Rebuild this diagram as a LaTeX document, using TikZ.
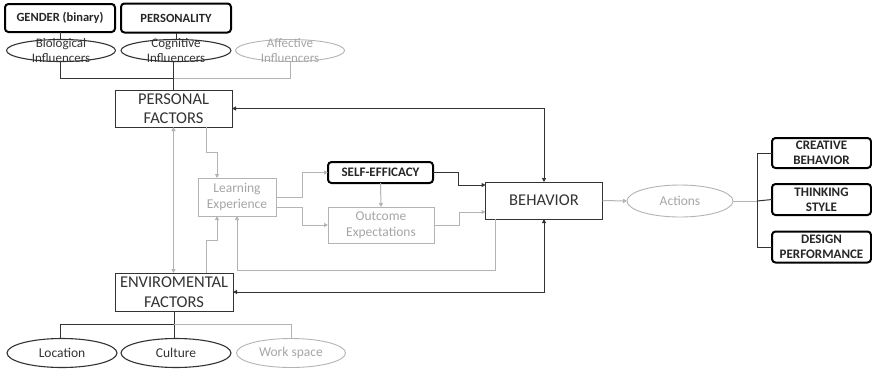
\documentclass[tikz,border=0pt]{standalone}
\usepackage{fontspec}
\setmainfont{Carlito}
\usetikzlibrary{arrows.meta,shapes.geometric}
\definecolor{ink}{HTML}{333333}
\definecolor{faint}{HTML}{B4B4B4}
\definecolor{fainttext}{HTML}{A6A6A6}
\begin{document}
\begin{tikzpicture}[x=1pt,y=-1pt,
  every node/.style={inner sep=0pt, outer sep=0pt, align=center, text=ink},
  bigtext/.style={font=\fontsize{16.5}{19.5}\selectfont},
  midtext/.style={font=\fontsize{13.5}{16.5}\selectfont},
  smalltext/.style={font=\fontsize{13}{15}\selectfont},
  plainbox/.style={draw=ink, line width=0.9pt, rectangle, bigtext},
  faintbox/.style={draw=faint, line width=0.9pt, rectangle, midtext, text=fainttext},
  keybox/.style={draw=black, line width=2pt, rounded corners=3.5pt, font=\bfseries\fontsize{12.5}{15}\selectfont, text=black!85},
  outbox/.style={keybox, font=\bfseries\fontsize{13}{15}\selectfont},
  darkoval/.style={ellipse, draw=ink, line width=1.1pt},
  faintoval/.style={ellipse, draw=faint, line width=0.9pt, text=fainttext},
  darkline/.style={draw=ink, line width=1pt},
  faintline/.style={draw=faint, line width=1pt},
  tip/.style={-{Triangle[length=4pt,width=4pt]}},
  bitip/.style={{Triangle[length=4pt,width=4pt]}-{Triangle[length=4pt,width=4pt]}}
]
\useasboundingbox (0,0) rectangle (872,370);
\fill[white] (0,0) rectangle (872,370);

% personal influencers
\node[keybox, minimum width=110pt, minimum height=28pt] (gender) at (60,18) {GENDER (binary)};
\node[keybox, minimum width=110pt, minimum height=29pt] (personality) at (176,18) {PERSONALITY};
\node[darkoval, minimum width=109pt, minimum height=22pt] (bio) at (61,50.5) {};
\node[darkoval, minimum width=110pt, minimum height=22pt] (cog) at (176,50.5) {};
\node[faintoval, minimum width=109pt, minimum height=22pt] (aff) at (290,50.5) {};
\node[smalltext] (bio-t) at (bio) {Biological\\Influencers};
\node[smalltext] (cog-t) at (cog) {Cognitive\\Influencers};
\node[smalltext, text=fainttext] (aff-t) at (aff) {Affective\\Influencers};

% core factors
\node[plainbox, minimum width=117pt, minimum height=37pt] (personal) at (173.5,108.5) {PERSONAL\\FACTORS};
\node[plainbox, minimum width=118pt, minimum height=38pt] (env) at (174,292) {ENVIROMENTAL\\FACTORS};
\node[plainbox, minimum width=117pt, minimum height=37pt] (behavior) at (544,200.5) {BEHAVIOR};

% cognitive mechanism
\node[faintbox, minimum width=78pt, minimum height=38pt] (learn) at (237,197) {Learning\\Experience};
\node[keybox, font=\bfseries\fontsize{13}{15}\selectfont, minimum width=105pt, minimum height=21pt] (self) at (380.5,172.5) {SELF-EFFICACY};
\node[faintbox, minimum width=106pt, minimum height=36pt] (outcome) at (381,225) {Outcome\\Expectations};

% outputs
\node[faintoval, midtext, minimum width=106pt, minimum height=32pt] (actions) at (680,201) {Actions};
\node[outbox, minimum width=99pt, minimum height=30pt] (creative) at (821.5,153) {CREATIVE\\BEHAVIOR};
\node[outbox, minimum width=99pt, minimum height=31pt] (thinking) at (821.5,199.5) {THINKING\\STYLE};
\node[outbox, minimum width=99pt, minimum height=31pt] (design) at (821.5,247) {DESIGN\\PERFORMANCE};

% environmental influencers
\node[darkoval, midtext, minimum width=110pt, minimum height=29pt] (location) at (62,353) {Location};
\node[darkoval, midtext, minimum width=110pt, minimum height=29pt] (culture) at (176,353) {Culture};
\node[faintoval, midtext, minimum width=109pt, minimum height=29pt] (work) at (291,353) {Work space};

% helper points for routed connectors
\coordinate (ptop) at (173.5,78);
\coordinate (ebot) at (174,324);
\coordinate (pl1) at (206,152);
\coordinate (pl2) at (217,152);
\coordinate (el1) at (206,240);
\coordinate (el2) at (217,240);
\coordinate (fb1) at (495,270);
\coordinate (fb2) at (237,270);
\coordinate (sp1) at (302,197);
\coordinate (sp2) at (302,172.5);
\coordinate (op1) at (302,207);
\coordinate (op2) at (302,225);
\coordinate (sb1) at (458,172.5);
\coordinate (sb2) at (458,185);
\coordinate (ob1) at (459,225);
\coordinate (ob2) at (459,212);
\coordinate (br) at (757,201);

% influencer trees
\draw[darkline] (gender.south) -- (gender.south |- bio.north);
\draw[darkline] (personality.south) -- (personality.south |- cog.north);
\draw[darkline] (bio.south -| 60,0) |- (ptop);
\draw[darkline] (cog.south -| ptop) -- (personal.north -| ptop);
\draw[faintline] (ptop) -| (aff.south);

\draw[darkline] (env.south -| ebot) -- (ebot);
\draw[darkline] (location.north -| 60,0) |- (ebot) -- (culture.north -| ebot);
\draw[faintline] (ebot) -| (work.north);

% reciprocal links
\draw[darkline, bitip] (personal.east) -| (behavior.north);
\draw[darkline, bitip] (env.east) -| (behavior.south);
\draw[faintline, bitip] (personal.south -| 173.5,0) -- (env.north -| 173.5,0);

% learning paths
\draw[faintline, tip] (personal.south -| pl1) -- (pl1) -- (pl2) -- (learn.north -| pl2);
\draw[faintline, tip] (env.north -| el1) -- (el1) -- (el2) -- (learn.south -| el2);
\draw[faintline, tip] (behavior.south -| fb1) -- (fb1) -- (fb2) -- (learn.south -| fb2);
\draw[faintline, tip] (learn.east |- sp1) -- (sp1) -- (sp2) -- (self.west);
\draw[faintline, tip] (learn.east |- op1) -- (op1) -- (op2) -- (outcome.west);
\draw[faintline, tip] (self.south) -- (outcome.north);
\draw[darkline, tip] (self.east) -- (sb1) -- (sb2) -- (behavior.west |- sb2);
\draw[faintline, tip] (outcome.east) -- (ob1) -- (ob2) -- (behavior.west |- ob2);

% outputs
\draw[faintline, tip] (behavior.east) -- (actions.west);
\draw[faintline] (actions.east) -- (br);
\draw[darkline] (creative.west) -| (br) |- (design.west);
\draw[darkline] (br) -- (thinking.west);
\end{tikzpicture}
\end{document}
